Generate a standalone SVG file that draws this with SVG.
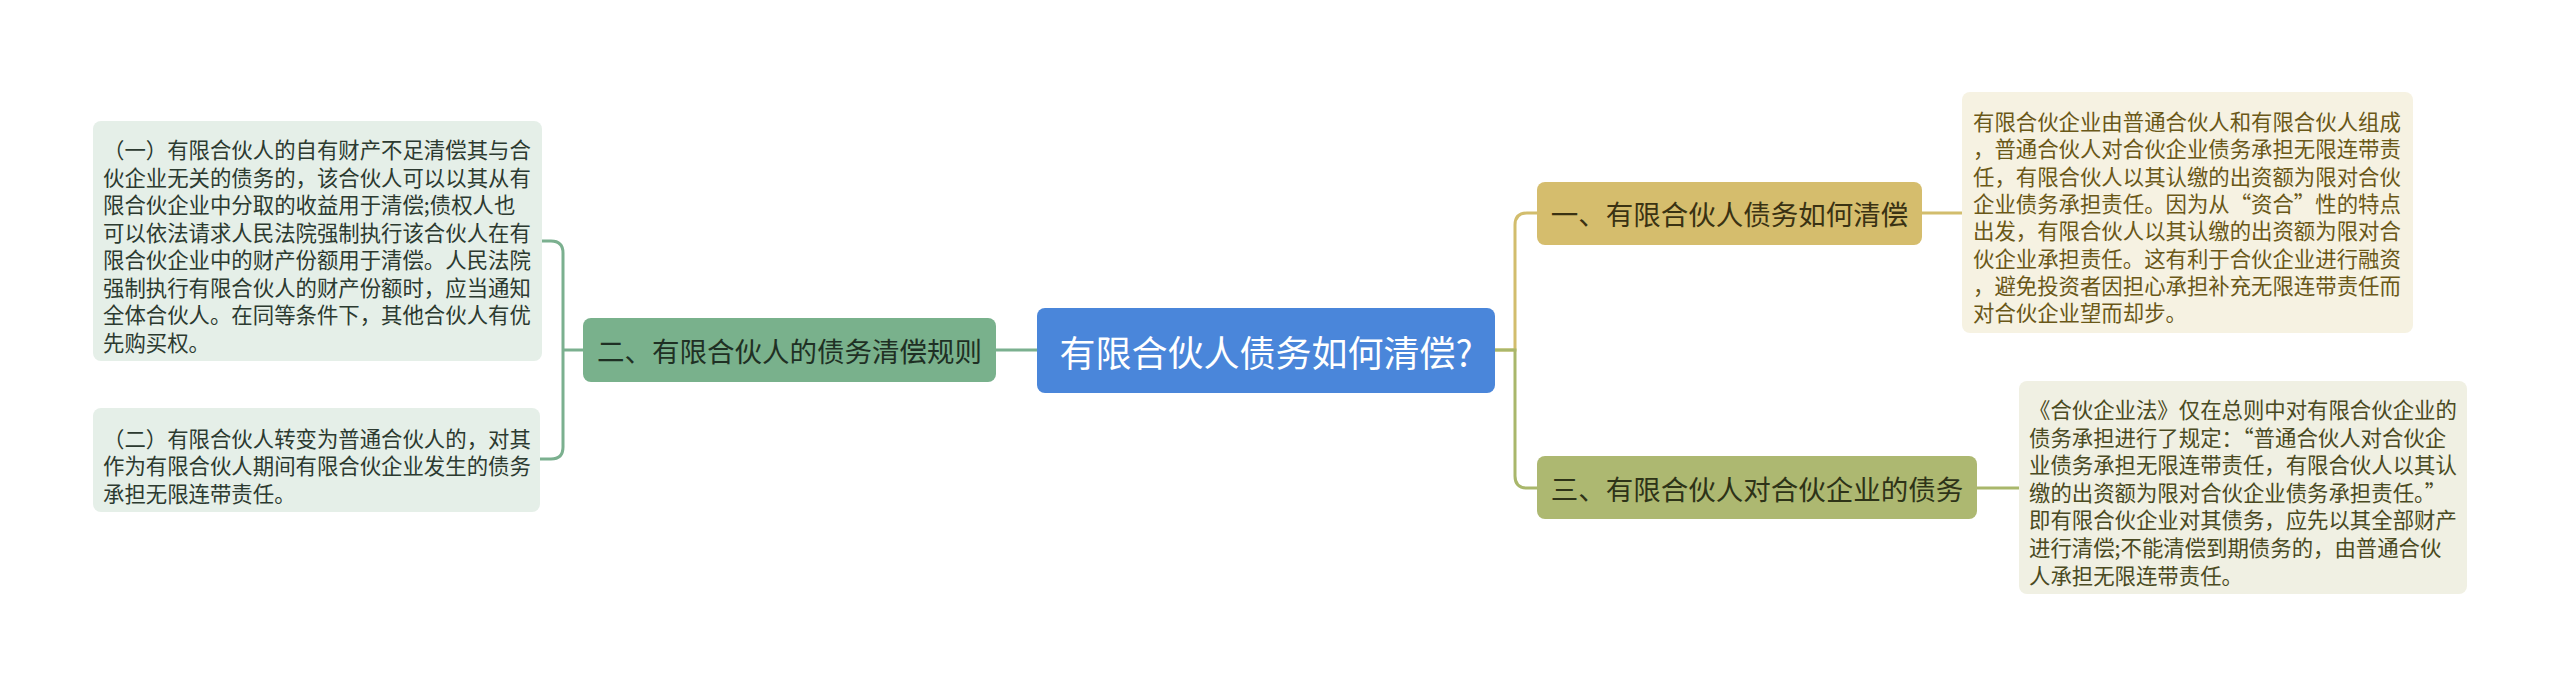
<svg xmlns="http://www.w3.org/2000/svg" width="2560" height="687" viewBox="0 0 2560 687">
<style>
text{font-family:"Noto Sans CJK SC","Noto Sans",sans-serif;dominant-baseline:central}
.body{font-size:21.4px}
.node{font-size:27.5px;text-anchor:middle}
.conn{fill:none;stroke-width:3}
</style>
<rect width="2560" height="687" fill="#ffffff"/>
<g id="connectors">
<path class="conn" stroke="#7bb08f" d="M1037,350 H996"/>
<path class="conn" stroke="#7bb08f" d="M583,350 H563"/>
<path class="conn" stroke="#7bb08f" d="M563,350 V253 Q563,241 551,241 H542"/>
<path class="conn" stroke="#7bb08f" d="M563,350 V447 Q563,459 551,459 H540"/>
<path class="conn" stroke="#d2bd6d" d="M1495,350 H1515 V225 Q1515,213 1527,213 H1537"/>
<path class="conn" stroke="#a9b76b" d="M1495,350 H1515 V476 Q1515,488 1527,488 H1537"/>
<path class="conn" stroke="#d2bd6d" d="M1922,213 H1962"/>
<path class="conn" stroke="#a9b76b" d="M1977,488 H2019"/>
</g>
<g id="root">
<rect x="1037" y="308" width="458" height="85" rx="8" fill="#4a86da"/>
<text x="1266" y="351" font-size="36" text-anchor="middle" fill="#ffffff">有限合伙人债务如何清偿?</text>
</g>
<g id="branch2">
<rect x="583" y="318" width="413" height="64" rx="8" fill="#79b18c"/>
<text class="node" x="789.5" y="350" fill="#1f3024">二、有限合伙人的债务清偿规则</text>
</g>
<g id="leaf2a">
<rect x="93" y="121" width="449" height="240" rx="8" fill="#e5efe8"/>
<text class="body" fill="#2c3a30">
<tspan x="103" y="148">（一）有限合伙人的自有财产不足清偿其与合</tspan>
<tspan x="103" y="175.5">伙企业无关的债务的，该合伙人可以以其从有</tspan>
<tspan x="103" y="203">限合伙企业中分取的收益用于清偿;债权人也</tspan>
<tspan x="103" y="230.5">可以依法请求人民法院强制执行该合伙人在有</tspan>
<tspan x="103" y="258">限合伙企业中的财产份额用于清偿。人民法院</tspan>
<tspan x="103" y="285.5">强制执行有限合伙人的财产份额时，应当通知</tspan>
<tspan x="103" y="313">全体合伙人。在同等条件下，其他合伙人有优</tspan>
<tspan x="103" y="340.5">先购买权。</tspan>
</text>
</g>
<g id="leaf2b">
<rect x="93" y="408" width="447" height="104" rx="8" fill="#e5efe8"/>
<text class="body" fill="#2c3a30">
<tspan x="103" y="436.5">（二）有限合伙人转变为普通合伙人的，对其</tspan>
<tspan x="103" y="464">作为有限合伙人期间有限合伙企业发生的债务</tspan>
<tspan x="103" y="491.5">承担无限连带责任。</tspan>
</text>
</g>
<g id="branch1">
<rect x="1537" y="182" width="385" height="63" rx="8" fill="#d5bd6d"/>
<text class="node" x="1729.5" y="213" fill="#3a3213">一、有限合伙人债务如何清偿</text>
</g>
<g id="leaf1">
<rect x="1962" y="92" width="451" height="241" rx="8" fill="#f6f2e2"/>
<text class="body" fill="#6a5818">
<tspan x="1973" y="120">有限合伙企业由普通合伙人和有限合伙人组成</tspan>
<tspan x="1973" y="147.3">，普通合伙人对合伙企业债务承担无限连带责</tspan>
<tspan x="1973" y="174.6">任，有限合伙人以其认缴的出资额为限对合伙</tspan>
<tspan x="1973" y="201.9">企业债务承担责任。因为从“资合”性的特点</tspan>
<tspan x="1973" y="229.2">出发，有限合伙人以其认缴的出资额为限对合</tspan>
<tspan x="1973" y="256.5">伙企业承担责任。这有利于合伙企业进行融资</tspan>
<tspan x="1973" y="283.8">，避免投资者因担心承担补充无限连带责任而</tspan>
<tspan x="1973" y="311.1">对合伙企业望而却步。</tspan>
</text>
</g>
<g id="branch3">
<rect x="1537" y="456" width="440" height="63" rx="8" fill="#adb871"/>
<text class="node" x="1757" y="488" fill="#2e3318">三、有限合伙人对合伙企业的债务</text>
</g>
<g id="leaf3">
<rect x="2019" y="381" width="448" height="213" rx="8" fill="#f0f0e3"/>
<text class="body" fill="#4a4a22">
<tspan x="2029" y="408">《合伙企业法》仅在总则中对有限合伙企业的</tspan>
<tspan x="2029" y="435.6">债务承担进行了规定：“普通合伙人对合伙企</tspan>
<tspan x="2029" y="463.2">业债务承担无限连带责任，有限合伙人以其认</tspan>
<tspan x="2029" y="490.8">缴的出资额为限对合伙企业债务承担责任。”</tspan>
<tspan x="2029" y="518.4">即有限合伙企业对其债务，应先以其全部财产</tspan>
<tspan x="2029" y="546">进行清偿;不能清偿到期债务的，由普通合伙</tspan>
<tspan x="2029" y="573.6">人承担无限连带责任。</tspan>
</text>
</g>
</svg>
